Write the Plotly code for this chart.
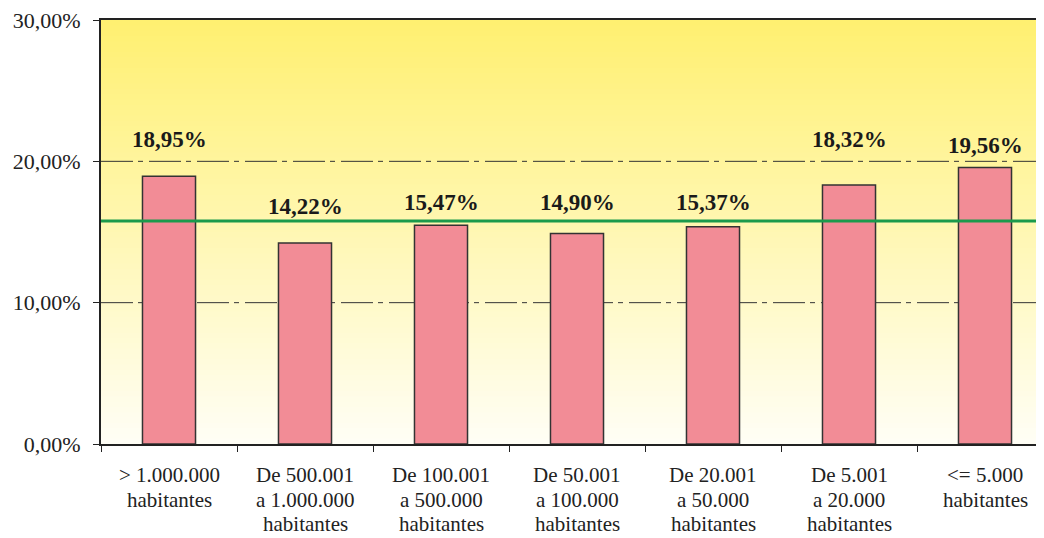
import plotly.graph_objects as go

categories = [
    "> 1.000.000<br>habitantes",
    "De 500.001<br>a 1.000.000<br>habitantes",
    "De 100.001<br>a 500.000<br>habitantes",
    "De 50.001<br>a 100.000<br>habitantes",
    "De 20.001<br>a 50.000<br>habitantes",
    "De 5.001<br>a 20.000<br>habitantes",
    "<= 5.000<br>habitantes",
]
values = [18.95, 14.22, 15.47, 14.90, 15.37, 18.32, 19.56]
labels = ["18,95%", "14,22%", "15,47%", "14,90%", "15,37%", "18,32%", "19,56%"]
average = 15.78
y_tickvals = [0, 10, 20, 30]
y_ticktext = ["0,00%", "10,00%", "20,00%", "30,00%"]

# pixel offsets of value labels above bar tops (style)
label_shift = [22, 22, 8, 16, 10, 31, 8]

font = "Liberation Serif, Times New Roman, serif"

fig = go.Figure()
fig.add_trace(go.Bar(
    x=categories, y=values,
    marker=dict(color="#F28C96", line=dict(color="#333333", width=1.5)),
    width=0.39,
    hoverinfo="skip",
))

for c, v, t, s in zip(categories, values, labels, label_shift):
    fig.add_annotation(x=c, y=v, text="<b>" + t + "</b>", showarrow=False,
                       yanchor="bottom", yshift=s,
                       font=dict(family=font, size=23, color="#1a1a1a"))

# category labels, one annotation per line for tighter line spacing
for c in categories:
    for i, line in enumerate(c.split("<br>")):
        fig.add_annotation(x=c, y=0, xref="x", yref="paper", text=line,
                           showarrow=False, yanchor="middle", borderpad=0,
                           yshift=-31 - 24.5 * i,
                           font=dict(family=font, size=21, color="#222222"))

shapes = []
n = 80
top = (255, 240, 112)
bot = (255, 254, 246)
for i in range(n):
    f0 = i / n
    f1 = (i + 1) / n
    fm = (f0 + f1) / 2
    r = round(bot[0] + (top[0] - bot[0]) * fm)
    g = round(bot[1] + (top[1] - bot[1]) * fm)
    b = round(bot[2] + (top[2] - bot[2]) * fm)
    shapes.append(dict(type="rect", xref="paper", yref="paper", x0=0, x1=1,
                       y0=f0, y1=f1 + 0.002, fillcolor=f"rgb({r},{g},{b})",
                       line=dict(width=0), layer="below"))
for gv in [10, 20]:
    shapes.append(dict(type="line", xref="paper", yref="y", x0=0, x1=1, y0=gv, y1=gv,
                       line=dict(color="#333333", width=1, dash="32px,5px,5px,6px"),
                       layer="below"))
shapes.append(dict(type="line", xref="paper", yref="y", x0=0, x1=1, y0=average, y1=average,
                   line=dict(color="#1B9A4C", width=3), layer="above"))
fig.update_layout(shapes=shapes)

fig.update_layout(
    width=1045, height=530,
    margin=dict(l=93, r=0, t=12, b=94),
    paper_bgcolor="white", plot_bgcolor="rgba(0,0,0,0)",
    showlegend=False,
    bargap=0.61,
    font=dict(family=font, size=21, color="#222222"),
)
fig.update_xaxes(
    showgrid=False, showline=True, linecolor="#222222", linewidth=2, mirror=True,
    ticks="outside", ticklen=6, tickcolor="#222222", tickson="boundaries",
    showticklabels=False, automargin=False,
)
fig.update_yaxes(
    range=[0, 30], tickvals=y_tickvals, ticktext=y_ticktext,
    showgrid=False, zeroline=False, showline=True, linecolor="#222222", linewidth=2,
    ticks="outside", ticklen=6, tickcolor="#222222", automargin=False,
    ticklabeloverflow="allow", ticklabelstandoff=8,
    tickfont=dict(family=font, size=22, color="#222222"),
)

fig.write_html("out.html")
